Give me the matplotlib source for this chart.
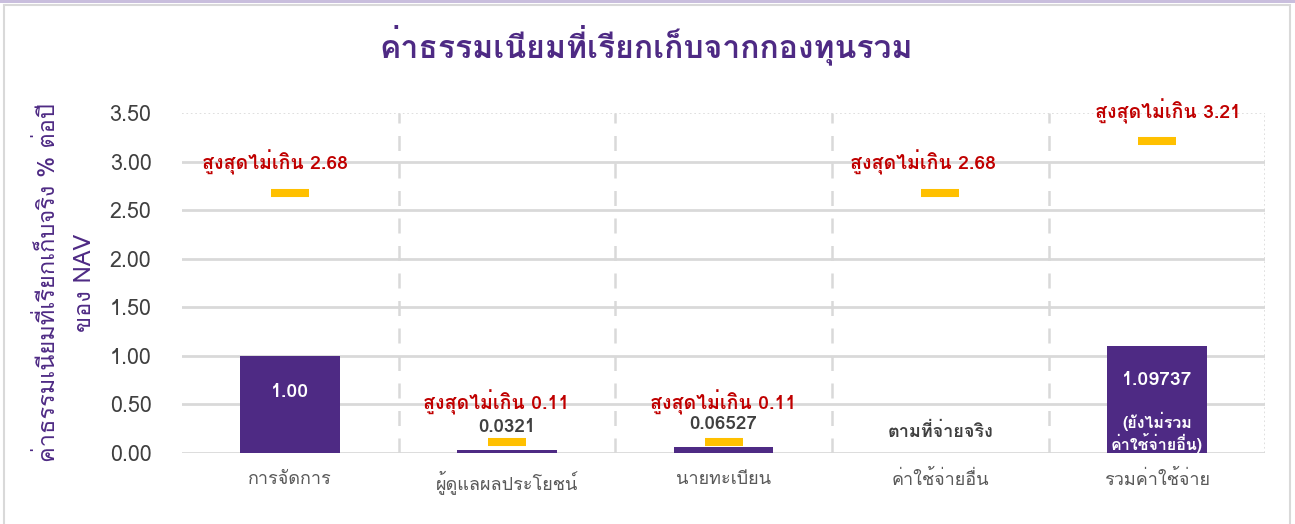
import matplotlib
matplotlib.use("Agg")
import matplotlib.pyplot as plt
from matplotlib import font_manager
from matplotlib.ft2font import FT2Font
from matplotlib.patches import Rectangle


# pick an installed font that has Thai glyphs
def find_thai_font():
    for f in font_manager.fontManager.ttflist:
        try:
            if ord('ก') in FT2Font(f.fname).get_charmap():
                return f.name
        except Exception:
            pass
    return 'DejaVu Sans'


thai = find_thai_font()
plt.rcParams['font.family'] = [thai, 'DejaVu Sans']

# data
categories = ['การจัดการ', 'ผู้ดูแลผลประโยชน์', 'นายทะเบียน', 'ค่าใช้จ่ายอื่น', 'รวมค่าใช้จ่าย']
actual_fee = [1.00, 0.0321, 0.06527, 0.0, 1.09737]
max_fee = [2.68, 0.11, 0.11, 2.68, 3.21]
value_labels = ['1.00', '0.0321', '0.06527', 'ตามที่จ่ายจริง', '1.09737']
max_labels = ['สูงสุดไม่เกิน 2.68', 'สูงสุดไม่เกิน 0.11', 'สูงสุดไม่เกิน 0.11',
              'สูงสุดไม่เกิน 2.68', 'สูงสุดไม่เกิน 3.21']
total_note = '(ยังไม่รวม\nค่าใช้จ่ายอื่น)'
yticks = [0, 0.5, 1.0, 1.5, 2.0, 2.5, 3.0, 3.5]

purple = '#4E2A84'
yellow = '#FFC000'
red = '#C00000'
grid = '#D9D9D9'

fig = plt.figure(figsize=(12.95, 5.24), dpi=100)
fig.patches.append(Rectangle((0.003, -0.01), 0.993, 1.0, transform=fig.transFigure,
                             fill=False, ec='#D9D9D9', lw=1.5))
fig.patches.append(Rectangle((0, 0.995), 1, 0.005, transform=fig.transFigure,
                             fc='#C9BEDD', ec='none'))

ax = fig.add_axes([0.1405, 0.1355, 0.8365, 0.649])
x = list(range(len(categories)))

ax.bar(x, actual_fee, width=0.46, color=purple, zorder=3)
ax.hlines(max_fee, [i - 0.0875 for i in x], [i + 0.0875 for i in x],
          color=yellow, lw=5.8, zorder=4)

ax.set_xlim(-0.5, 4.5)
ax.set_ylim(0, 3.5)
ax.set_yticks(yticks)
ax.set_yticklabels([f'{v:.2f}' for v in yticks])
ax.set_xticks(x)
ax.set_xticklabels(categories)
ax.tick_params(axis='y', length=0, pad=22, labelsize=15.5, labelcolor='#404040')
ax.tick_params(axis='x', length=0, pad=12, labelsize=13, labelcolor='#595959')

for s in ax.spines.values():
    s.set_visible(False)
for v in yticks[:-1]:
    ax.axhline(v, color=grid, lw=2, zorder=1)
ax.axhline(3.5, color=grid, lw=1.2, ls=':', zorder=1)
ax.axvline(4.5, color=grid, lw=1.2, ls=':', zorder=1)
for b in [0.5, 1.5, 2.5, 3.5]:
    ax.axvline(b, color=grid, lw=1.8, ls=(0, (6, 5)), zorder=1)

# red max labels above the yellow markers
for i, (m, lab) in enumerate(zip(max_fee, max_labels)):
    dx = [-0.07, -0.05, 0.0, -0.08, 0.05][i]
    dy = 0.41 if m < 1 else 0.31
    ax.text(i + dx, m + dy, lab, ha='center', va='center', color=red,
            fontsize=14, fontweight='bold', zorder=5, clip_on=False)

# value labels
ax.text(0, 0.63, value_labels[0], ha='center', va='center', color='white',
        fontsize=14, fontweight='bold', zorder=5)
ax.text(1, 0.27, value_labels[1], ha='center', va='center', color='#404040',
        fontsize=13.5, fontweight='bold', zorder=5)
ax.text(2, 0.30, value_labels[2], ha='center', va='center', color='#404040',
        fontsize=13.5, fontweight='bold', zorder=5)
ax.text(3, 0.22, value_labels[3], ha='center', va='center', color='#404040',
        fontsize=13, fontweight='bold', zorder=5)
ax.text(4, 0.75, value_labels[4], ha='center', va='center', color='white',
        fontsize=14, fontweight='bold', zorder=5)
ax.text(4, 0.21, total_note, ha='center', va='center', color='white',
        fontsize=11.5, fontweight='bold', zorder=5, linespacing=1.1)

ax.set_ylabel('ค่าธรรมเนียมที่เรียกเก็บจริง % ต่อปี\nของ NAV', color=purple,
              fontsize=17, labelpad=10, linespacing=1.7)

fig.text(0.499, 0.915, 'ค่าธรรมเนียมที่เรียกเก็บจากกองทุนรวม', ha='center', va='center',
         color=purple, fontsize=23, fontweight='bold')

plt.savefig('out.png', dpi=100)
